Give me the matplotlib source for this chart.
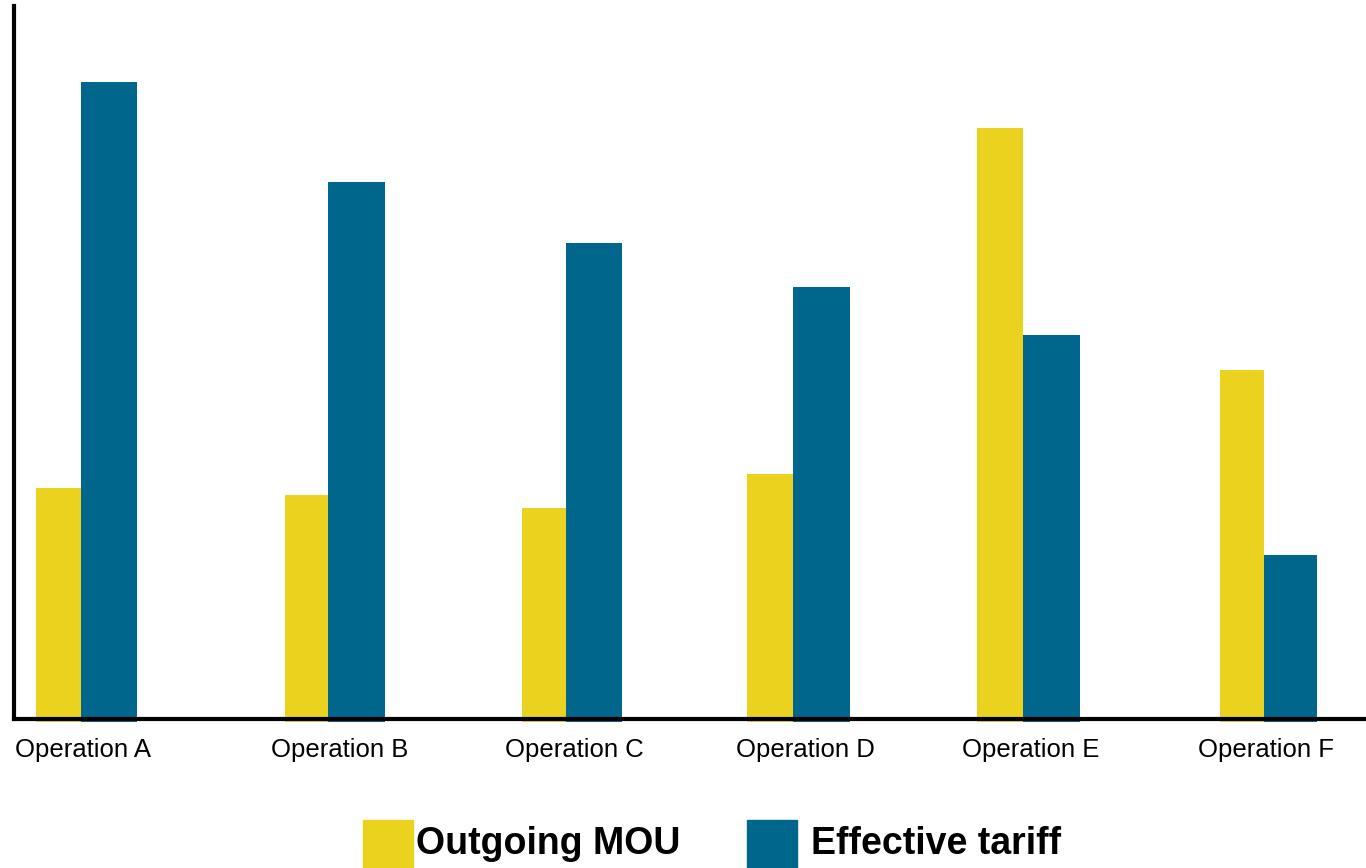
import matplotlib
matplotlib.use("Agg")
import matplotlib.pyplot as plt
from matplotlib.patches import Rectangle

operations = ["Operation A", "Operation B", "Operation C",
              "Operation D", "Operation E", "Operation F"]
outgoing_mou = [231, 224, 211, 245, 591, 349]
effective_tariff = [637, 537, 476, 432, 384, 164]

YELLOW = "#EBD21F"
BLUE = "#00668B"

# group split points and label centres (axes units, 0..1352)
splits = [67, 314, 552, 779, 1009, 1250]
label_x = [69, 326, 560, 791, 1017, 1252]
w_yellow = [45, 43, 44, 46, 46, 44]
w_blue = [56, 57, 56, 57, 57, 53]
sink = 3  # bars poke a little below the baseline

plt.rcParams['font.family'] = ['Liberation Sans', 'DejaVu Sans']

fig = plt.figure(figsize=(13.66, 8.68), dpi=100)
ax = fig.add_axes([14 / 1366, 149 / 868, 1352 / 1366, 713 / 868])

ax.bar([s - w for s, w in zip(splits, w_yellow)], [v + sink for v in outgoing_mou],
       width=w_yellow, bottom=-sink, align='edge', color=YELLOW, zorder=1,
       clip_on=False)
ax.bar(splits, [v + sink for v in effective_tariff],
       width=w_blue, bottom=-sink, align='edge', color=BLUE, zorder=1,
       clip_on=False)

ax.set_xlim(0, 1352)
ax.set_ylim(0, 713)
ax.set_yticks([])
ax.set_xticks(label_x)
ax.set_xticklabels(operations, fontsize=18.5)
ax.tick_params(axis='x', length=0, pad=14)

for side in ['top', 'right']:
    ax.spines[side].set_visible(False)
for side in ['left', 'bottom']:
    ax.spines[side].set_linewidth(3)
    ax.spines[side].set_zorder(3)
ax.spines['bottom'].set_clip_on(False)

# legend at the bottom
for x0, tx, color, text in [(363, 416, YELLOW, "Outgoing MOU"),
                            (747, 811, BLUE, "Effective tariff")]:
    fig.patches.append(Rectangle((x0 / 1366, 0), 50 / 1366, 48 / 868,
                                 transform=fig.transFigure, color=color))
    fig.text(tx / 1366, 24 / 868, text, fontsize=27, fontweight='bold',
             va='center', ha='left')

fig.savefig("out.png", dpi=100)
